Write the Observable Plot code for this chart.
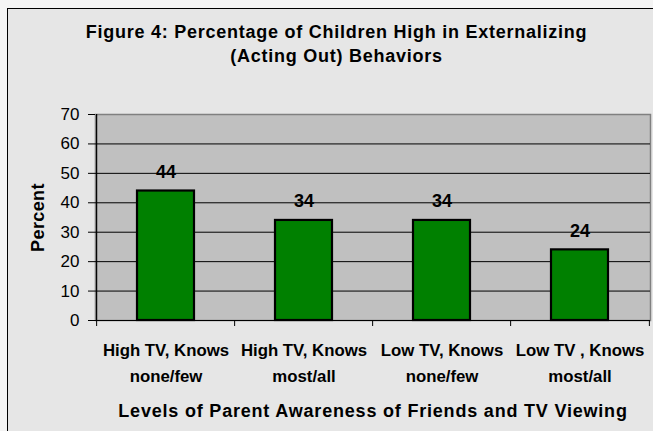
<!DOCTYPE html>
<html>
<head>
<meta charset="utf-8">
<script src="https://cdn.jsdelivr.net/npm/d3@7"></script>
<script src="https://cdn.jsdelivr.net/npm/@observablehq/plot@0.6"></script>
<style>
  html, body { margin: 0; padding: 0; background: #f4f4f4; width: 653px; height: 431px; overflow: hidden; }
  #bg { position: absolute; left: 7px; top: 8px; width: 700px; height: 480px; background: #e6e6e6;
        border-left: 1.5px solid #000; border-top: 1.5px solid #000; }
  #chart { position: absolute; left: 0; top: 0; }
</style>
</head>
<body>
<div id="bg"></div>
<div id="chart"></div>
<script>
const categories = ["High TV, Knows\nnone/few", "High TV, Knows\nmost/all", "Low TV, Knows\nnone/few", "Low TV , Knows\nmost/all"];
const values = [44, 34, 34, 24];
const yTicks = [0, 10, 20, 30, 40, 50, 60, 70];
const gridValues = [10, 20, 30, 40, 50, 60];
const titleText = "Figure 4: Percentage of Children High in Externalizing\n(Acting Out) Behaviors";
const xTitle = "Levels of Parent Awareness of Friends and TV Viewing";
const yTitle = "Percent";

const data = categories.map((c, i) => ({cat: c, value: values[i]}));

const W = 653, H = 431;
const mL = 95, mR = 3, mT = 114, mB = 111;
const pInner = 0.59, pOuter = 0.295;

const xs = Plot.scale({x: {type: "band", domain: categories, range: [mL, W - mR], paddingInner: pInner, paddingOuter: pOuter}});
const half = xs.step / 2;

const font = "'Liberation Sans', Arial, sans-serif";

const chart = Plot.plot({
  width: W, height: H,
  marginLeft: mL, marginRight: mR, marginTop: mT, marginBottom: mB,
  style: {background: "transparent", fontFamily: font, color: "#000", overflow: "visible"},
  x: {domain: categories, paddingInner: pInner, paddingOuter: pOuter, label: null},
  y: {domain: [0, 70], label: null},
  marks: [
    Plot.frame({fill: "#c0c0c0", stroke: "#808080", strokeWidth: 1.5}),
    Plot.ruleY(gridValues, {stroke: "#000", strokeWidth: 1}),
    Plot.ruleY([0], {stroke: "#000", strokeWidth: 1.2}),
    Plot.ruleX([categories[0]], {dx: -half, stroke: "#000", strokeWidth: 1.2}),
    Plot.ruleX(categories, {x: d => d, y1: 0, y2: 0, insetBottom: -6, dx: -half, stroke: "#000", strokeWidth: 1}),
    Plot.ruleX([categories[categories.length - 1]], {x: d => d, y1: 0, y2: 0, insetBottom: -6, dx: half, stroke: "#000", strokeWidth: 1}),
    Plot.barY(data, {x: "cat", y: "value", fill: "#008000", stroke: "#000", strokeWidth: 2.2}),
    Plot.text(data, {x: "cat", y: "value", text: d => String(d.value), dy: -19, fontSize: 18, fontWeight: "bold", fill: "#000"}),
    Plot.axisY({ticks: yTicks, tickSize: 7, tickPadding: 9, fontSize: 17, stroke: "#000", fill: "#000", label: null}),
    Plot.axisX({tickSize: 0, tickPadding: 17, fontSize: 16.8, fontWeight: "bold", lineHeight: 1.55, fill: "#000", label: null}),
    Plot.text([yTitle], {frameAnchor: "left", dx: -57, rotate: -90, textAnchor: "middle", lineAnchor: "middle", fontSize: 18, fontWeight: "bold", fill: "#000"}),
    Plot.text([xTitle], {frameAnchor: "bottom", dy: 91, lineAnchor: "middle", fontSize: 18, fontWeight: "bold", fill: "#000"}),
    Plot.text([titleText], {frameAnchor: "top", dx: -36.5, dy: -72, lineAnchor: "middle", fontSize: 18, fontWeight: "bold", lineHeight: 1.35, fill: "#000"})
  ]
});
const spacing = (prefix, px) => d3.select(chart).selectAll("text")
  .filter(function() { return this.textContent.startsWith(prefix); })
  .attr("letter-spacing", px);
spacing("Figure 4", 0.75);
spacing("Levels of", 0.8);
spacing("Percent", 0.4);
document.getElementById("chart").appendChild(chart);
</script>
</body>
</html>
